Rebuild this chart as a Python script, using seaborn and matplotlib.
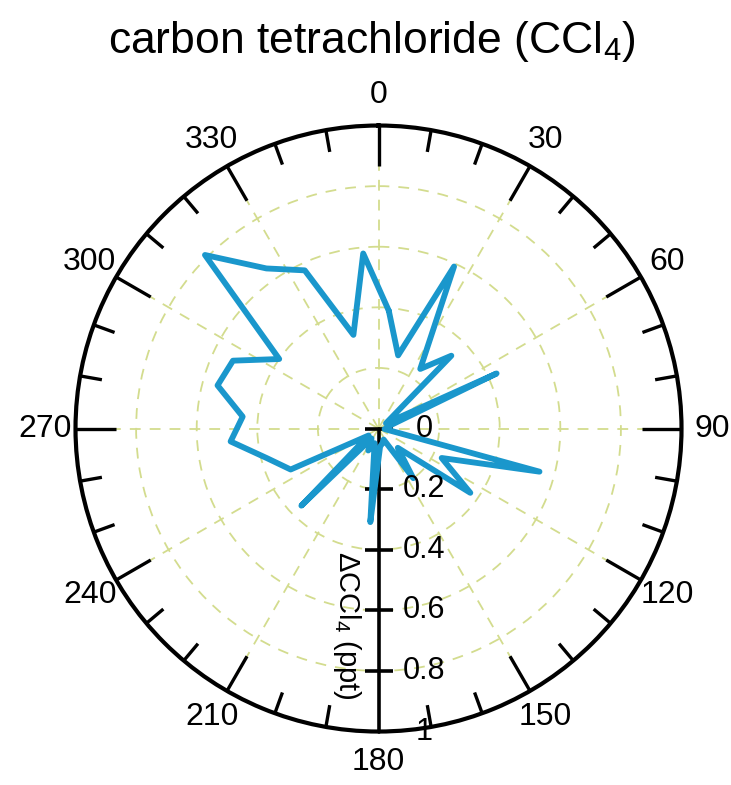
import numpy as np
import pandas as pd
import matplotlib
matplotlib.use("Agg")
import matplotlib.pyplot as plt
import seaborn as sns

# ---- data ----
wind_dir_deg = [5, 15, 25, 35, 45, 55, 65, 75, 85, 95, 105, 115,
                125, 135, 145, 155, 165, 175, 185, 195, 205, 215, 225, 235,
                245, 255, 265, 275, 285, 295, 305, 315, 325, 335, 345, 355]
delta_ccl4 = [0.39, 0.25, 0.59, 0.24, 0.34, 0.03, 0.43, 0.04, 0.03, 0.02, 0.55, 0.23,
              0.37, 0.09, 0.20, 0.04, 0.05, 0.06, 0.31, 0.05, 0.08, 0.04, 0.36, 0.04,
              0.32, 0.38, 0.49, 0.45, 0.55, 0.53, 0.40, 0.81, 0.645, 0.576, 0.32, 0.58]
theta_ticks_deg = list(range(0, 360, 30))
theta_tick_labels = [str(a) for a in theta_ticks_deg]
theta_minor_deg = [a for a in range(0, 360, 10) if a % 30 != 0]
r_ticks = [0, 0.2, 0.4, 0.6, 0.8, 1.0]
r_tick_labels = ["0", "0.2", "0.4", "0.6", "0.8", "1"]
r_grid = [0.2, 0.4, 0.6, 0.8]

LINE_COLOR = "#1a97cc"
GRID_COLOR = "#d3dc8e"

sns.set_theme(style="white")
plt.rcParams["font.family"] = ["Liberation Sans Narrow", "Liberation Sans", "DejaVu Sans"]
plt.rcParams["mathtext.fontset"] = "custom"
plt.rcParams["mathtext.rm"] = "Liberation Sans"
plt.rcParams["mathtext.it"] = "Liberation Sans"
plt.rcParams["mathtext.bf"] = "Liberation Sans"

fig = plt.figure(figsize=(7.31, 7.85), dpi=100)
fig.patch.set_facecolor("white")
ax = fig.add_axes([0.1033, 0.0681, 0.829, 0.772], projection="polar")
ax.set_facecolor("white")
ax.set_theta_zero_location("N")
ax.set_theta_direction(-1)

df = pd.DataFrame({
    "theta": np.deg2rad(wind_dir_deg + [wind_dir_deg[0] + 360]),
    "r": delta_ccl4 + [delta_ccl4[0]],
})
sns.lineplot(data=df, x="theta", y="r", sort=False, estimator=None, ax=ax,
             color=LINE_COLOR, linewidth=4.2, zorder=5)
ax.set_xlabel("")
ax.set_ylabel("")
ax.set_ylim(0, 1)

# theta labels
ax.set_xticks(np.deg2rad(theta_ticks_deg))
ax.set_xticklabels(theta_tick_labels, fontsize=23, color="black")
ax.tick_params(axis="x", which="major", length=0, pad=15, labelcolor="black")

# inward tick marks on the outer circle
for a in theta_ticks_deg:
    if a == 180:
        continue
    t = np.deg2rad(a)
    ax.plot([t, t], [1 - 0.132, 1], color="black", linewidth=2.4, zorder=4,
            solid_capstyle="butt")
for a in theta_minor_deg:
    t = np.deg2rad(a)
    ax.plot([t, t], [1 - 0.073, 1], color="black", linewidth=2.4, zorder=4,
            solid_capstyle="butt")

# radial grid
ax.set_yticks(r_grid)
ax.set_yticklabels([])
ax.tick_params(axis="y", length=0)
ax.grid(True, which="major", color=GRID_COLOR, linestyle=(0, (6, 5)), linewidth=1.3)
ax.spines["polar"].set_linewidth(3.0)
ax.spines["polar"].set_color("black")

# custom radial axis along 180 deg
ax.plot([np.pi, np.pi], [0, 1], color="black", linewidth=2.6, zorder=4, clip_on=False)
ax.plot([np.pi] * 5, r_ticks[:5], linestyle="none", marker="_", markersize=20,
        markeredgewidth=2.6, color="black", zorder=4, clip_on=False)
for r, lab in zip(r_ticks, r_tick_labels):
    ax.annotate(lab, xy=(np.pi, r), xytext=(33, 0), textcoords="offset points",
                ha="center", va="center", fontsize=22, color="black",
                annotation_clip=False, zorder=6)
ax.annotate("ΔCCl$_4$ (ppt)", xy=(np.pi, 0.648), xytext=(-23, 0),
            textcoords="offset points", rotation=-90, ha="center", va="center",
            fontsize=21, color="black", annotation_clip=False)

fig.text(0.509, 0.9465, "carbon tetrachloride (CCl$_4$)", ha="center", va="center",
         fontsize=32, color="black")

fig.savefig("out.png", dpi=100, facecolor="white")
